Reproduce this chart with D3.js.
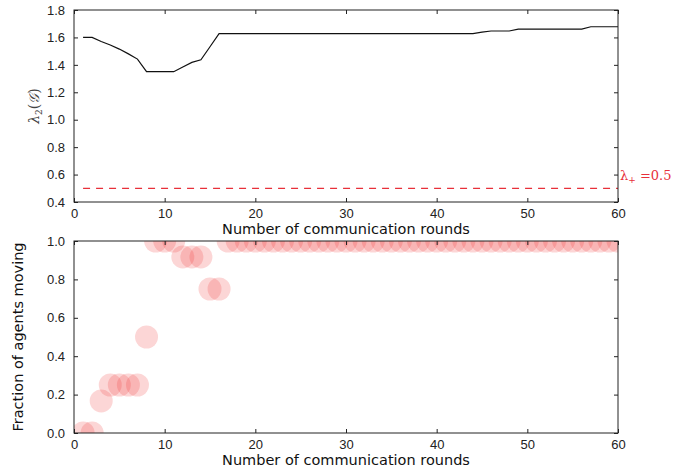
<!DOCTYPE html>
<html>
<head>
<meta charset="utf-8">
<script src="https://cdn.jsdelivr.net/npm/d3@7"></script>
<style>
  body { margin: 0; background: #fff; }
  svg { font-family: "DejaVu Sans", sans-serif; }
  .tick text { font-size: 13px; fill: #222; }
</style>
</head>
<body>
<div id="chart"></div>
<script>
// top panel: lambda_2 of the graph per round
const rounds = d3.range(1, 61);
const lambda2 = [1.60, 1.60, 1.57, 1.545, 1.515, 1.48, 1.442, 1.35, 1.35, 1.35,
  1.35, 1.385, 1.418, 1.437, 1.532, 1.628, 1.628, 1.628, 1.628, 1.628,
  1.628, 1.628, 1.628, 1.628, 1.628, 1.628, 1.628, 1.628, 1.628, 1.628,
  1.628, 1.628, 1.628, 1.628, 1.628, 1.628, 1.628, 1.628, 1.628, 1.628,
  1.628, 1.628, 1.628, 1.628, 1.638, 1.647, 1.647, 1.647, 1.661, 1.661,
  1.661, 1.661, 1.661, 1.661, 1.661, 1.661, 1.678, 1.678, 1.678, 1.678];
const lambdaPlus = 0.5;

// bottom panel: fraction of agents moving per round
const fraction = [0, 0, 0.167, 0.25, 0.25, 0.25, 0.25, 0.5, 1, 1,
  1, 0.917, 0.917, 0.917, 0.75, 0.75, 1, 1, 1, 1,
  1, 1, 1, 1, 1, 1, 1, 1, 1, 1,
  1, 1, 1, 1, 1, 1, 1, 1, 1, 1,
  1, 1, 1, 1, 1, 1, 1, 1, 1, 1,
  1, 1, 1, 1, 1, 1, 1, 1, 1, 1];

const xTicks = [0, 10, 20, 30, 40, 50, 60];
const yTicksTop = [0.4, 0.6, 0.8, 1.0, 1.2, 1.4, 1.6, 1.8];
const yTicksBottom = [0.0, 0.2, 0.4, 0.6, 0.8, 1.0];

const W = 677, H = 469;
const left = 74, right = 618;
const top1 = 10, bot1 = 202;
const top2 = 241, bot2 = 433;

const svg = d3.select("#chart").append("svg")
  .attr("width", W).attr("height", H);

const x = d3.scaleLinear().domain([0, 60]).range([left, right]);
const y1 = d3.scaleLinear().domain([0.4, 1.8]).range([bot1, top1]);
const y2 = d3.scaleLinear().domain([0, 1]).range([bot2, top2]);

function frame(y, yt, top, bot, fmt) {
  const g = svg.append("g");
  // inward ticks on all four sides, like classic matplotlib
  g.append("g").attr("transform", `translate(0,${bot})`)
    .call(d3.axisBottom(x).tickValues(xTicks).tickSize(-4).tickPadding(7).tickFormat(d3.format("d")))
    .call(a => a.select(".domain").remove());
  g.append("g").attr("transform", `translate(0,${top})`)
    .call(d3.axisTop(x).tickValues(xTicks).tickSize(-4).tickFormat(""))
    .call(a => a.select(".domain").remove());
  g.append("g").attr("transform", `translate(${left},0)`)
    .call(d3.axisLeft(y).tickValues(yt).tickSize(-4).tickPadding(9).tickFormat(d3.format(fmt)))
    .call(a => a.select(".domain").remove());
  g.append("g").attr("transform", `translate(${right},0)`)
    .call(d3.axisRight(y).tickValues(yt).tickSize(-4).tickFormat(""))
    .call(a => a.select(".domain").remove());
  g.selectAll(".tick line").attr("stroke", "#222");
  g.append("rect")
    .attr("x", left).attr("y", top)
    .attr("width", right - left).attr("height", bot - top)
    .attr("fill", "none").attr("stroke", "#222").attr("stroke-width", 1);
}

// ---- top panel
svg.append("path")
  .datum(rounds.map((r, i) => [r, lambda2[i]]))
  .attr("fill", "none").attr("stroke", "#111").attr("stroke-width", 1.2)
  .attr("d", d3.line().x(d => x(d[0])).y(d => y1(d[1])));

svg.append("line")
  .attr("x1", x(rounds[0])).attr("x2", x(60))
  .attr("y1", y1(lambdaPlus)).attr("y2", y1(lambdaPlus))
  .attr("stroke", "#e8303a").attr("stroke-width", 1.3)
  .attr("stroke-dasharray", "7,6");

frame(y1, yTicksTop, top1, bot1, ".1f");

const lt = svg.append("text")
  .attr("x", right + 2).attr("y", y1(lambdaPlus) - 8)
  .attr("font-family", "DejaVu Serif, serif").attr("font-size", 13)
  .attr("fill", "#e8303a");
lt.append("tspan").text("λ");
lt.append("tspan").attr("font-size", 9).attr("dy", 3).text("+");
lt.append("tspan").attr("dy", -3).text(" =0.5");

svg.append("text")
  .attr("x", x(30)).attr("y", 234)
  .attr("text-anchor", "middle").attr("font-size", 14.5).attr("fill", "#111")
  .text("Number of communication rounds");

const yl = svg.append("text")
  .attr("transform", `translate(39,${(top1 + bot1) / 2}) rotate(-90)`)
  .attr("text-anchor", "middle")
  .attr("font-family", "DejaVu Serif, serif").attr("font-size", 14)
  .attr("fill", "#444");
yl.append("tspan").attr("font-style", "italic").text("λ");
yl.append("tspan").attr("font-size", 9).attr("dy", 3).text("2");
yl.append("tspan").attr("dy", -3).text("(");
yl.append("tspan").attr("font-style", "italic").text("𝒢");
yl.append("tspan").text(")");

// ---- bottom panel
svg.append("clipPath").attr("id", "clip2")
  .append("rect").attr("x", left).attr("y", top2)
  .attr("width", right - left).attr("height", bot2 - top2);

svg.append("g").attr("clip-path", "url(#clip2)")
  .selectAll("circle")
  .data(rounds.map((r, i) => [r, fraction[i]]))
  .enter().append("circle")
  .attr("cx", d => x(d[0]))
  .attr("cy", d => y2(d[1]))
  .attr("r", 11.5)
  .attr("fill", "#f03030").attr("fill-opacity", 0.2);

frame(y2, yTicksBottom, top2, bot2, ".1f");

svg.append("text")
  .attr("x", x(30)).attr("y", 465)
  .attr("text-anchor", "middle").attr("font-size", 14.5).attr("fill", "#111")
  .text("Number of communication rounds");

svg.append("text")
  .attr("transform", `translate(23,${(top2 + bot2) / 2}) rotate(-90)`)
  .attr("text-anchor", "middle").attr("font-size", 14.5).attr("fill", "#111")
  .text("Fraction of agents moving");
</script>
</body>
</html>
